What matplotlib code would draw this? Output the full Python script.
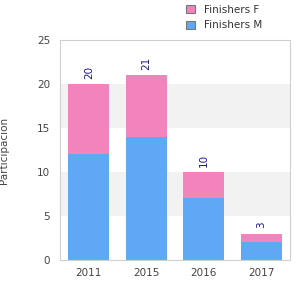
import matplotlib.pyplot as plt
import numpy as np

years = ["2011", "2015", "2016", "2017"]
finishers_m = [12, 14, 7, 2]
finishers_f = [8, 7, 3, 1]

blue = "#5fa8f5"
pink = "#f383bd"

fig = plt.figure(figsize=(3, 3), dpi=100)
ax = fig.add_axes([0.2, 0.1333, 0.7667, 0.7333])

# alternating background bands
for lo in (5, 15):
    ax.axhspan(lo, lo + 5, color="#f2f2f2", zorder=0, lw=0)

x = np.arange(len(years))
totals = np.array(finishers_m) + np.array(finishers_f)
bm = ax.bar(x, finishers_m, width=0.71, color=blue, label="Finishers M", zorder=2)
bf = ax.bar(x, finishers_f, width=0.71, bottom=finishers_m, color=pink,
            label="Finishers F", zorder=2)

for xi, t in zip(x, totals):
    ax.text(xi, t + 0.6, str(t), rotation=90, ha="center", va="bottom",
            fontsize=7.5, color="#1a1a8c")

ax.set_xlim(-0.5, len(years) - 0.5)
ax.set_ylim(0, 25)
ax.set_yticks([0, 5, 10, 15, 20, 25])
ax.set_xticks(x)
ax.set_xticklabels(years)
ax.tick_params(length=0, labelsize=7.5, colors="#444444", pad=6)
ax.tick_params(axis="y", pad=7)
for s in ax.spines.values():
    s.set_color("#d0d0d0")
    s.set_linewidth(0.8)

fig.text(-0.005, 0.5, "Participación", rotation=90, ha="left", va="center",
         fontsize=7.5, color="#444444")

leg = fig.legend(handles=[bf, bm], loc="upper left", bbox_to_anchor=(0.6, 1.005),
                 frameon=False, fontsize=7.5, handlelength=0.8, handleheight=0.8,
                 handletextpad=0.9, labelspacing=0.55, borderaxespad=0.2)
for h in leg.legend_handles:
    h.set_edgecolor("#777777")
    h.set_linewidth(0.8)
for t in leg.get_texts():
    t.set_color("#333333")

fig.savefig("out.png", dpi=100)
